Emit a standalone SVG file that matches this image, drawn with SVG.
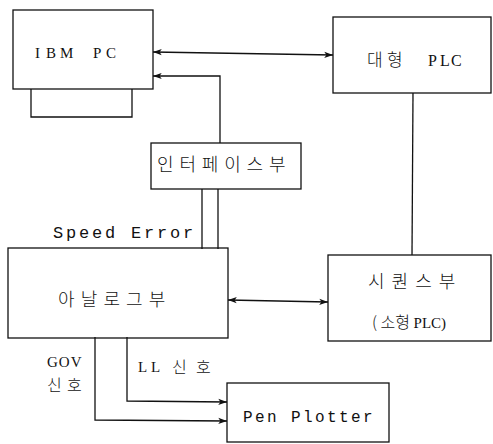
<svg xmlns="http://www.w3.org/2000/svg" width="493" height="444" viewBox="0 0 493 444">
<style>
.box{fill:none;stroke:#111;stroke-width:1.3}
.ln{fill:none;stroke:#111;stroke-width:1.3}
text{fill:#111}
</style>
<defs>
<marker id="ah" viewBox="0 0 10 8" refX="10" refY="4" markerWidth="9" markerHeight="7" orient="auto-start-reverse" markerUnits="userSpaceOnUse">
<path d="M0,0.5 L10,4 L0,7.5 L2.5,4 Z" fill="#111"/>
</marker>
</defs>
<rect width="493" height="444" fill="#fff"/>
<g id="connectors">
<line class="ln" x1="153" y1="52" x2="333" y2="55" marker-start="url(#ah)" marker-end="url(#ah)"/>
<polyline class="ln" points="220,143 220,76 153,76" marker-end="url(#ah)"/>
<line class="ln" x1="413" y1="93" x2="412" y2="255"/>
<line class="ln" x1="202" y1="189" x2="202" y2="249"/>
<line class="ln" x1="218" y1="189" x2="218" y2="249"/>
<line class="ln" x1="228" y1="300" x2="328" y2="302" marker-start="url(#ah)" marker-end="url(#ah)"/>
<polyline class="ln" points="127,337 127,401 227,402" marker-end="url(#ah)"/>
<polyline class="ln" points="95,337 95,420 227,421" marker-end="url(#ah)"/>
</g>
<g id="ibm-pc">
<rect class="box" x="13" y="10" width="140" height="79"/>
<polyline class="ln" points="31,89 31,117 132,117 132,89"/>
<text font-family="Liberation Serif, DejaVu Serif, serif" x="35 46 60" y="58" font-size="15">IBM</text>
<text font-family="Liberation Serif, DejaVu Serif, serif" x="93 106" y="58" font-size="15">PC</text>
</g>
<g id="large-plc">
<rect class="box" x="333" y="17" width="158" height="76"/>
<text font-family="Noto Sans CJK KR, sans-serif" font-weight="300" x="367 387" y="66" font-size="17">대형</text>
<text font-family="Liberation Serif, DejaVu Serif, serif" x="428 440 451" y="66" font-size="16">PLC</text>
</g>
<g id="interface">
<rect class="box" x="151" y="143" width="150" height="46"/>
<text font-family="Noto Sans CJK KR, sans-serif" font-weight="300" x="157 179.4 201.8 224.2 246.6 269" y="171" font-size="18">인터페이스부</text>
</g>
<g id="speed-error-label">
<text font-family="Liberation Mono, DejaVu Sans Mono, monospace" x="53 66 79 92 105" y="238" font-size="17">Speed</text>
<text font-family="Liberation Mono, DejaVu Sans Mono, monospace" x="131 144 157 170 183" y="238" font-size="17">Error</text>
</g>
<g id="analog">
<rect class="box" x="8" y="248" width="220" height="90"/>
<text font-family="Noto Sans CJK KR, sans-serif" font-weight="300" x="58 80.7 103.4 126.1 148.8" y="306" font-size="18">아날로그부</text>
</g>
<g id="sequence">
<rect class="box" x="328" y="255" width="163" height="86"/>
<text font-family="Noto Sans CJK KR, sans-serif" font-weight="300" x="368 391.6 415.2 438.8" y="288" font-size="18">시퀀스부</text>
<text font-family="Noto Sans CJK KR, sans-serif" font-weight="300" x="372" y="328" font-size="16">( 소형 <tspan font-family="Liberation Serif, DejaVu Serif, serif" font-size="15">PLC)</tspan></text>
</g>
<g id="signal-labels">
<text font-family="Liberation Serif, DejaVu Serif, serif" x="47" y="367" font-size="15" letter-spacing="1">GOV</text>
<text font-family="Noto Sans CJK KR, sans-serif" font-weight="300" x="47 67" y="391" font-size="16">신호</text>
<text font-family="Liberation Serif, DejaVu Serif, serif" x="138 151" y="372" font-size="15">LL</text>
<text font-family="Noto Sans CJK KR, sans-serif" font-weight="300" x="172 196" y="373" font-size="16">신호</text>
</g>
<g id="pen-plotter">
<rect class="box" x="227" y="383" width="162" height="59"/>
<text font-family="Liberation Mono, DejaVu Sans Mono, monospace" x="243 255 267" y="422" font-size="16">Pen</text>
<text font-family="Liberation Mono, DejaVu Sans Mono, monospace" x="291 303 315 327 339 351 363" y="422" font-size="16">Plotter</text>
</g>
</svg>
